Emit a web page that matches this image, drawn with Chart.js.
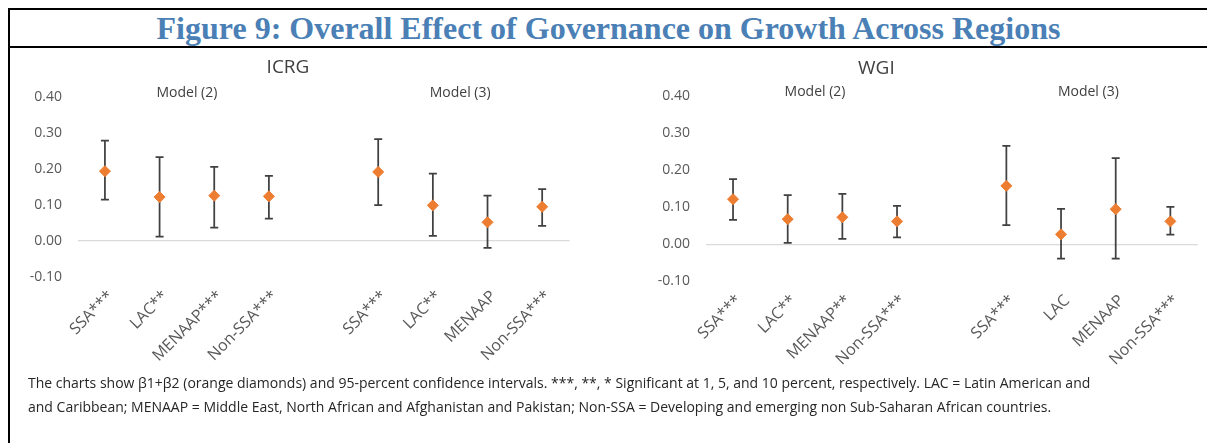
<!DOCTYPE html>
<html>
<head>
<meta charset="utf-8">
<script src="https://cdn.jsdelivr.net/npm/chart.js@4/dist/chart.umd.min.js"></script>
<style>
  body { margin: 0; width: 1207px; height: 443px; overflow: hidden; background: #fff; position: relative; font-family: "Open Sans", sans-serif; }
  .hline { position: absolute; left: 8px; width: 1199px; height: 2px; background: #000; }
  #vline { position: absolute; left: 8px; top: 8px; width: 2px; height: 435px; background: #000; }
  #fig-title { position: absolute; left: 10px; top: 10px; width: 1197px; line-height: 36px; text-align: center;
    font-family: "Liberation Serif", "Times New Roman", serif; font-weight: bold; font-size: 32px; color: #4a80b5; }
  #note { position: absolute; left: 28px; top: 371px; font-size: 14px; line-height: 24px; color: #262626; white-space: nowrap; }
  canvas { position: absolute; }
</style>
</head>
<body>
<div class="hline" style="top:8px"></div>
<div class="hline" style="top:46px"></div>
<div id="vline"></div>
<div id="fig-title">Figure 9: Overall Effect of Governance on Growth Across Regions</div>

<canvas id="icrgChart" width="576" height="330" style="left:0px;top:50px"></canvas>
<canvas id="wgiChart" width="652" height="330" style="left:555px;top:50px"></canvas>

<div id="note">The charts show β1+β2 (orange diamonds) and 95-percent confidence intervals. ***, **, * Significant at 1, 5, and 10 percent, respectively. LAC = Latin American and<br>and Caribbean; MENAAP = Middle East, North African and Afghanistan and Pakistan; Non-SSA = Developing and emerging non Sub-Saharan African countries.</div>

<script>
// data (empty slot separates Model (2) and Model (3))
const icrgLabels = ["SSA***", "LAC**", "MENAAP***", "Non-SSA***", "", "SSA***", "LAC**", "MENAAP", "Non-SSA***"];
const icrgEffect = [0.194, 0.122, 0.126, 0.124, null, 0.192, 0.099, 0.052, 0.095];
const icrgLow = [0.115, 0.012, 0.037, 0.062, null, 0.100, 0.014, -0.019, 0.042];
const icrgHigh = [0.279, 0.233, 0.206, 0.181, null, 0.283, 0.187, 0.126, 0.144];

const wgiLabels = ["SSA***", "LAC**", "MENAAP**", "Non-SSA***", "", "SSA***", "LAC", "MENAAP", "Non-SSA***"];
const wgiEffect = [0.122, 0.068, 0.073, 0.062, null, 0.158, 0.027, 0.095, 0.062];
const wgiLow = [0.066, 0.004, 0.015, 0.019, null, 0.052, -0.039, -0.039, 0.026];
const wgiHigh = [0.176, 0.133, 0.136, 0.104, null, 0.266, 0.096, 0.233, 0.101];

const modelLabels = ["Model (2)", "Model (3)"];
const modelGroups = [[0, 3], [5, 8]];
const yTicks = { min: -0.1, max: 0.4, step: 0.1 };

const FONT = "'Open Sans', sans-serif";

// whiskers + caps, and the model labels above each group
const errorBars = {
  id: "errorBars",
  beforeDatasetsDraw(chart, args, opts) {
    const x = chart.scales.x, y = chart.scales.y, c = chart.ctx;
    c.save();
    c.strokeStyle = "#404040";
    c.lineWidth = 1.75;
    opts.low.forEach((lo, i) => {
      const hi = opts.high[i];
      if (lo == null || hi == null) return;
      const px = x.getPixelForValue(i);
      const y1 = y.getPixelForValue(lo), y2 = y.getPixelForValue(hi);
      c.beginPath();
      c.moveTo(px, y1); c.lineTo(px, y2);
      c.moveTo(px - 4, y1); c.lineTo(px + 4, y1);
      c.moveTo(px - 4, y2); c.lineTo(px + 4, y2);
      c.stroke();
    });
    c.fillStyle = "#404040";
    c.font = "14px " + FONT;
    c.textAlign = "center";
    c.textBaseline = "middle";
    modelGroups.forEach((g, k) => {
      const mx = (x.getPixelForValue(g[0]) + x.getPixelForValue(g[1])) / 2;
      c.fillText(modelLabels[k], mx, chart.chartArea.top - 4);
    });
    c.restore();
  }
};

function makeChart(id, title, labels, effect, low, high, geo) {
  return new Chart(document.getElementById(id), {
    type: "line",
    data: {
      labels: labels,
      datasets: [{
        data: effect,
        showLine: false,
        pointStyle: "rectRot",
        pointRadius: 5.5,
        backgroundColor: "#ED7D31",
        borderColor: "#ED7D31",
        borderWidth: 1
      }]
    },
    plugins: [errorBars],
    options: {
      responsive: false,
      animation: false,
      devicePixelRatio: 1,
      layout: { padding: { left: 0, right: geo.padRight, top: 0, bottom: 0 } },
      plugins: {
        legend: { display: false },
        tooltip: { enabled: false },
        title: {
          display: true,
          text: title,
          color: "#404040",
          font: { family: FONT, size: 19, weight: "normal", lineHeight: 1.2 },
          padding: { top: geo.titleTop, bottom: geo.titleBottom }
        },
        errorBars: { low: low, high: high }
      },
      scales: {
        x: {
          offset: true,
          grid: { display: false },
          border: { display: false },
          ticks: {
            autoSkip: false,
            minRotation: 45,
            maxRotation: 45,
            padding: 2,
            labelOffset: 6,
            color: "#595959",
            font: { family: FONT, size: 16 }
          },
          afterFit: (s) => { s.height = geo.xHeight; }
        },
        y: {
          min: yTicks.min,
          max: yTicks.max,
          border: { display: false },
          grid: {
            drawTicks: false,
            lineWidth: 1.3,
            color: (ctx) => Math.abs(ctx.tick.value) < 1e-9 ? "#d9d9d9" : "rgba(0,0,0,0)"
          },
          ticks: {
            stepSize: yTicks.step,
            padding: geo.tickPad,
            color: "#595959",
            font: { family: FONT, size: 14 },
            callback: (v) => Math.abs(v) < 1e-9 ? "0.00" : v.toFixed(2)
          },
          afterFit: (s) => { s.width = geo.yWidth; }
        }
      }
    }
  });
}

makeChart("icrgChart", "ICRG", icrgLabels, icrgEffect, icrgLow, icrgHigh,
  { padRight: 0, titleTop: 6.6, titleBottom: 17.6, xHeight: 103, yWidth: 77.6, tickPad: 15.6 });
makeChart("wgiChart", "WGI", wgiLabels, wgiEffect, wgiLow, wgiHigh,
  { padRight: 9.3, titleTop: 7.1, titleBottom: 16.4, xHeight: 98.7, yWidth: 150.7, tickPad: 15.7 });
</script>
</body>
</html>
